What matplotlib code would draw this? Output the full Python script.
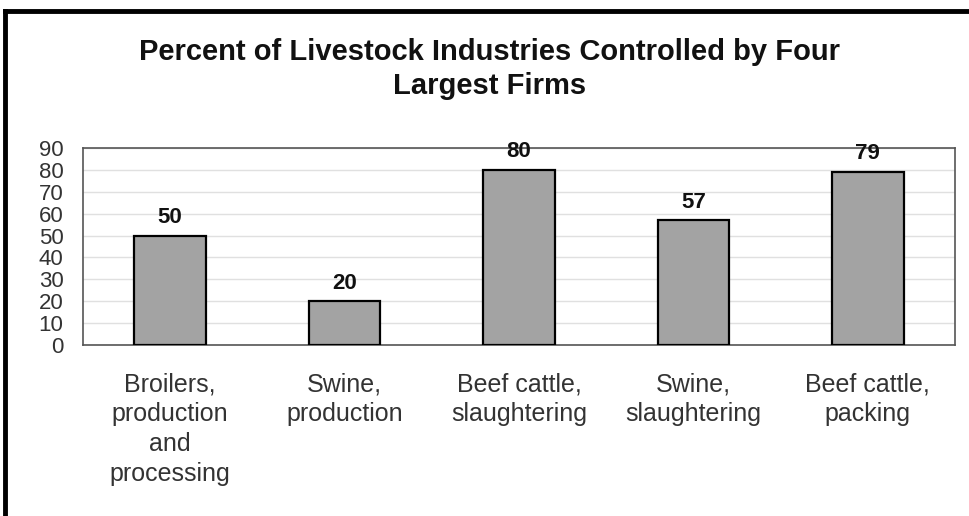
import matplotlib
matplotlib.use("Agg")
import matplotlib.pyplot as plt
from matplotlib.lines import Line2D

plt.rcParams['font.family'] = ['Liberation Sans', 'DejaVu Sans']

categories = ["Broilers,\nproduction\nand\nprocessing", "Swine,\nproduction",
              "Beef cattle,\nslaughtering", "Swine,\nslaughtering", "Beef cattle,\npacking"]
values = [50, 20, 80, 57, 79]
yticks = list(range(0, 100, 10))

fig = plt.figure(figsize=(9.69, 5.16), dpi=100)
ax = fig.add_axes([83 / 969, 1 - 345 / 516, 872 / 969, 197 / 516])

x = list(range(len(values)))
ax.bar(x, values, width=0.41, color='#a3a3a3', edgecolor='black', linewidth=1.6, zorder=3)
for xi, v in zip(x, values):
    ax.text(xi, v + 3.5, str(v), ha='center', va='bottom', fontsize=16,
            fontweight='bold', color='#111111', zorder=4)

ax.set_xlim(-0.5, 4.5)
ax.set_ylim(0, 90)
ax.set_yticks(yticks)
ax.set_yticklabels([str(t) for t in yticks], fontsize=16, color='#333333')
ax.set_xticks(x)
ax.set_xticklabels(categories, fontsize=18, color='#333333', linespacing=1.3, va='top')
ax.tick_params(axis='y', length=0, pad=14)
ax.tick_params(axis='x', length=0, pad=20)
ax.yaxis.grid(True, color='#e0e0e0', linewidth=1, zorder=0)
for s in ax.spines.values():
    s.set_color('#555555')
    s.set_linewidth(1.2)

fig.text(0.505, 1 - 69 / 516, "Percent of Livestock Industries Controlled by Four\nLargest Firms",
         ha='center', va='center', fontsize=21, fontweight='bold', color='#111111',
         linespacing=1.3)

# outer frame: left and top edges only
fig.lines.append(Line2D([5 / 969, 5 / 969], [0, 1 - 11 / 516], transform=fig.transFigure,
                        color='black', linewidth=3.5))
fig.lines.append(Line2D([5 / 969, 1], [1 - 11 / 516, 1 - 11 / 516], transform=fig.transFigure,
                        color='black', linewidth=3.5))

fig.savefig("out.png", dpi=100)
